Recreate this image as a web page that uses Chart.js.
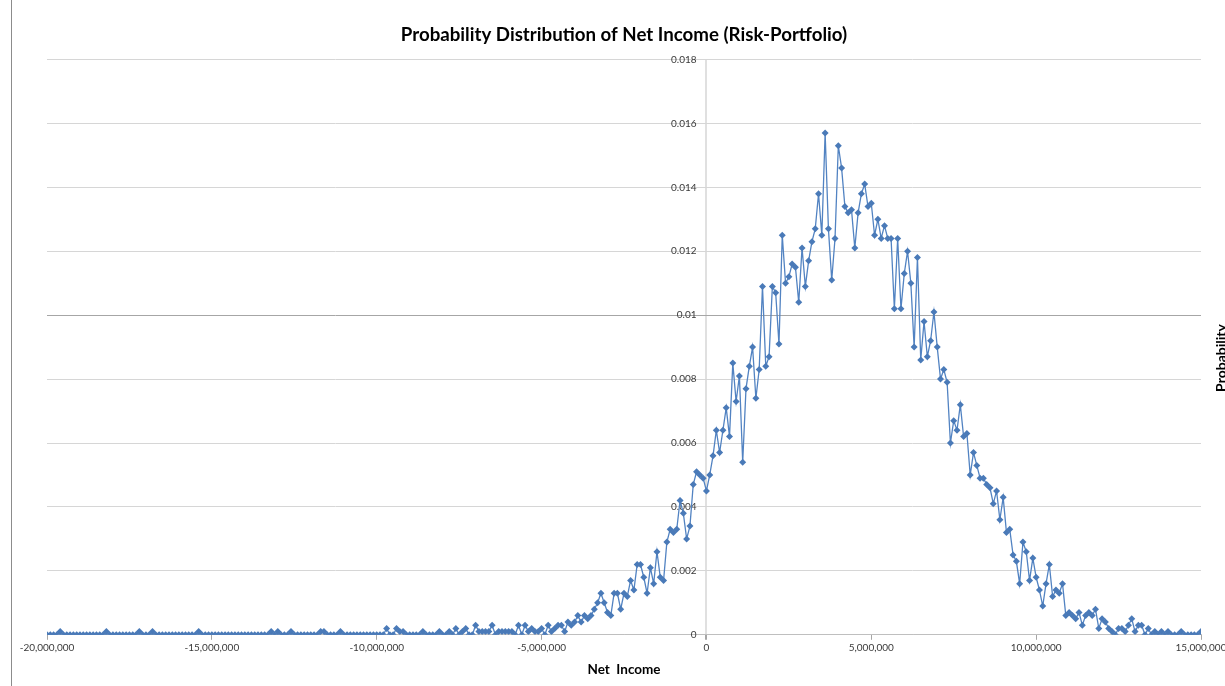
<!DOCTYPE html>
<html>
<head>
<meta charset="utf-8">
<title>Probability Distribution of Net Income (Risk-Portfolio)</title>
<script src="https://cdn.jsdelivr.net/npm/chart.js@4/dist/chart.umd.min.js"></script>
<style>
  html, body { margin: 0; padding: 0; background: #ffffff; }
  #wrap { width: 1225px; height: 686px; overflow: hidden; }
  canvas { display: block; }
</style>
</head>
<body>
<div id="wrap"><canvas id="chart" width="1225" height="686"></canvas></div>
<script>
// Net income buckets: -20,000,000 to 15,000,000 in steps of 100,000
const incomeStart = -20000000;
const incomeStep = 100000;

// Probability per bucket (-20M .. -10.1M)
const probFarLeft = [
  0, 0, 0, 0, 0.0001, 0, 0, 0, 0, 0,
  0, 0, 0, 0, 0, 0, 0, 0, 0.0001, 0,
  0, 0, 0, 0, 0, 0, 0, 0, 0.0001, 0,
  0, 0, 0.0001, 0, 0, 0, 0, 0, 0, 0,
  0, 0, 0, 0, 0, 0, 0.0001, 0, 0, 0,
  0, 0, 0, 0, 0, 0, 0, 0, 0, 0,
  0, 0, 0, 0, 0, 0, 0, 0, 0.0001, 0,
  0.0001, 0, 0, 0, 0.0001, 0, 0, 0, 0, 0,
  0, 0, 0, 0.0001, 0.0001, 0, 0, 0, 0, 0.0001,
  0, 0, 0, 0, 0, 0, 0, 0, 0, 0
];

// Probability per bucket (-10M .. -5.1M)
const probLeftTail = [
  0, 0, 0, 0.0002, 0, 0, 0.0002, 0.0001, 0.0001, 0,
  0, 0, 0, 0, 0.0001, 0, 0, 0, 0, 0.0001,
  0, 0, 0.0001, 0, 0.0002, 0, 0.0001, 0.0002, 0, 0,
  0.0003, 0.0001, 0.0001, 0.0001, 0.0001, 0.0003, 0, 0.0001, 0.0001, 0.0001,
  0.0001, 0.0001, 0, 0.0003, 0, 0.0003, 0.0001, 0.0002, 0.0001, 0.0001
];

// Probability per bucket (-5M .. -0.1M)
const probRising = [
  0.0002, 0, 0.0003, 0.0001, 0.0002, 0.0003, 0.0003, 0.0001, 0.0004, 0.0003,
  0.0004, 0.0006, 0.0004, 0.0006, 0.0005, 0.0006, 0.0008, 0.0010, 0.0013, 0.0010,
  0.0007, 0.0006, 0.0013, 0.0013, 0.0008, 0.0013, 0.0012, 0.0017, 0.0014, 0.0022,
  0.0022, 0.0018, 0.0013, 0.0021, 0.0016, 0.0026, 0.0018, 0.0017, 0.0029, 0.0033,
  0.0032, 0.0033, 0.0042, 0.0038, 0.0030, 0.0034, 0.0047, 0.0051, 0.0050, 0.0049
];

// Probability per bucket (0 .. 4.9M)
const probPeak = [
  0.0045, 0.0050, 0.0056, 0.0064, 0.0057, 0.0064, 0.0071, 0.0062, 0.0085, 0.0073,
  0.0081, 0.0054, 0.0077, 0.0084, 0.0090, 0.0074, 0.0083, 0.0109, 0.0084, 0.0087,
  0.0109, 0.0107, 0.0091, 0.0125, 0.0110, 0.0112, 0.0116, 0.0115, 0.0104, 0.0121,
  0.0109, 0.0117, 0.0123, 0.0127, 0.0138, 0.0125, 0.0157, 0.0127, 0.0111, 0.0124,
  0.0153, 0.0146, 0.0134, 0.0132, 0.0133, 0.0121, 0.0132, 0.0138, 0.0141, 0.0134
];

// Probability per bucket (5M .. 9.9M)
const probFalling = [
  0.0135, 0.0125, 0.0130, 0.0124, 0.0128, 0.0124, 0.0124, 0.0102, 0.0124, 0.0102,
  0.0113, 0.0120, 0.0110, 0.0090, 0.0118, 0.0086, 0.0098, 0.0087, 0.0092, 0.0101,
  0.0090, 0.0080, 0.0083, 0.0079, 0.0060, 0.0067, 0.0064, 0.0072, 0.0062, 0.0063,
  0.0050, 0.0057, 0.0053, 0.0049, 0.0049, 0.0047, 0.0046, 0.0041, 0.0045, 0.0036,
  0.0043, 0.0032, 0.0033, 0.0025, 0.0023, 0.0016, 0.0029, 0.0026, 0.0017, 0.0024
];

// Probability per bucket (10M .. 15M)
const probRightTail = [
  0.0018, 0.0014, 0.0009, 0.0016, 0.0022, 0.0012, 0.0014, 0.0013, 0.0016, 0.0006,
  0.0007, 0.0006, 0.0005, 0.0007, 0.0003, 0.0006, 0.0007, 0.0006, 0.0008, 0.0002,
  0.0005, 0.0004, 0.0002, 0.0001, 0, 0.0002, 0.0002, 0.0001, 0.0003, 0.0005,
  0.0001, 0.0003, 0.0003, 0, 0.0002, 0, 0.0001, 0, 0.0001, 0,
  0.0001, 0, 0, 0, 0.0001, 0, 0, 0, 0, 0,
  0.0001
];

const probability = [].concat(probFarLeft, probLeftTail, probRising, probPeak, probFalling, probRightTail);
const netIncome = probability.map((_, i) => incomeStart + i * incomeStep);

// Axis ticks
const xTicks = [-20000000, -15000000, -10000000, -5000000, 0, 5000000, 10000000, 15000000];
const yTicks = [0, 0.002, 0.004, 0.006, 0.008, 0.01, 0.012, 0.014, 0.016, 0.018];

const points = netIncome.map((x, i) => ({ x: x, y: probability[i] }));

const FONT = "Lato, 'Open Sans', 'Liberation Sans', sans-serif";
const TEXT = '#3a3a3a';

// Outer frame line and the rotated value-axis caption at the right edge
const decorations = {
  id: 'decorations',
  afterDraw(chart) {
    const ctx = chart.ctx;
    ctx.save();
    ctx.strokeStyle = '#8c8c8c';
    ctx.lineWidth = 1;
    ctx.beginPath();
    ctx.moveTo(11.5, 0);
    ctx.lineTo(11.5, chart.height);
    ctx.stroke();

    ctx.translate(1214, 358);
    ctx.rotate(-Math.PI / 2);
    ctx.fillStyle = '#000000';
    ctx.font = "bold 14px " + FONT;
    ctx.textAlign = 'center';
    ctx.textBaseline = 'top';
    ctx.fillText('Probability', 0, 0);
    ctx.restore();
  }
};

new Chart(document.getElementById('chart'), {
  type: 'line',
  data: {
    datasets: [{
      label: 'Probability',
      data: points,
      borderColor: '#5283c2',
      borderWidth: 1.3,
      backgroundColor: '#4a7ab8',
      pointBackgroundColor: '#4a7ab8',
      pointBorderColor: '#4a7ab8',
      pointBorderWidth: 0,
      pointStyle: 'rectRot',
      pointRadius: 3.5,
      pointHoverRadius: 3.5,
      tension: 0,
      fill: false
    }]
  },
  plugins: [decorations],
  options: {
    responsive: false,
    animation: false,
    devicePixelRatio: 1,
    layout: { padding: { left: 47, right: 24, top: 0, bottom: 8 } },
    plugins: {
      legend: { display: false },
      tooltip: { enabled: false },
      title: {
        display: true,
        text: 'Probability Distribution of Net Income (Risk-Portfolio)',
        color: '#000000',
        font: { family: FONT, size: 18.7, weight: 'bold' },
        padding: { top: 24, bottom: 13 }
      }
    },
    scales: {
      x: {
        type: 'linear',
        min: -20000000,
        max: 15000000,
        afterBuildTicks(scale) { scale.ticks = xTicks.map(v => ({ value: v })); },
        afterFit(scale) { scale.paddingLeft = 0; scale.paddingRight = 0; },
        border: { display: true, color: '#bfbfbf', width: 1 },
        grid: {
          drawOnChartArea: true,
          drawTicks: true,
          tickLength: 5,
          tickColor: '#a6a6a6',
          color: (c) => (c.tick && c.tick.value === 0) ? '#e0e0e0' : 'rgba(0,0,0,0)',
          lineWidth: (c) => (c.tick && c.tick.value === 0) ? 2 : 1
        },
        ticks: {
          autoSkip: false,
          maxRotation: 0,
          padding: 2,
          color: TEXT,
          font: { family: FONT, size: 10 },
          callback: (v) => Number(v).toLocaleString('en-US')
        },
        title: {
          display: true,
          text: 'Net  Income',
          color: '#000000',
          font: { family: FONT, size: 13.5, weight: 'bold' },
          padding: { top: 6, bottom: 0 }
        }
      },
      y: {
        type: 'linear',
        min: 0,
        max: 0.018,
        position: { x: -300000 },
        afterBuildTicks(scale) { scale.ticks = yTicks.map(v => ({ value: v })); },
        border: { display: false },
        grid: {
          drawTicks: false,
          color: (c) => (c.tick && Math.abs(c.tick.value - 0.01) < 1e-9) ? '#a6a6a6' : '#d6d6d6',
          lineWidth: 1
        },
        ticks: {
          color: TEXT,
          font: { family: FONT, size: 10 },
          callback: (v) => String(parseFloat(Number(v).toFixed(4)))
        }
      }
    }
  }
});
</script>
</body>
</html>
